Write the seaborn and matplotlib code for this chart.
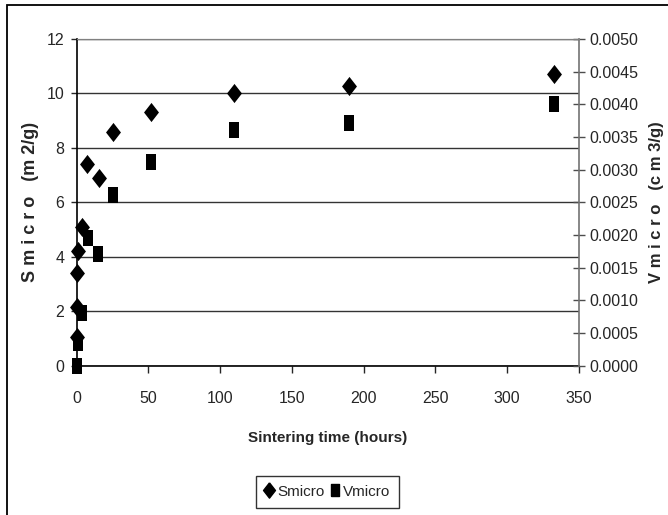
import numpy as np
import matplotlib
matplotlib.use("Agg")
import matplotlib.pyplot as plt
import seaborn as sns
from matplotlib.ticker import MultipleLocator, FormatStrFormatter
from matplotlib.lines import Line2D
from matplotlib.patches import Rectangle

# data
s_time = [0, 0, 0.5, 1, 3.5, 7.5, 15.5, 25.5, 52, 110, 190, 333]
s_micro = [1.05, 2.15, 3.4, 4.2, 5.1, 7.4, 6.9, 8.6, 9.3, 10.0, 10.27, 10.73]

v_time = [0, 1, 3.5, 8, 15, 25, 52, 110, 190, 333]
v_micro = [0.0, 0.00034, 0.00081, 0.00195, 0.00171, 0.00262, 0.00311, 0.00361, 0.00371, 0.0040]

sns.set_style("white")
plt.rcParams['font.family'] = ['Liberation Sans', 'DejaVu Sans']

# tall marker shapes, like the stretched original
diamond = [(0, 1), (0.78, 0), (0, -1), (-0.78, 0), (0, 1)]
square = [(-0.62, -1), (0.62, -1), (0.62, 1), (-0.62, 1), (-0.62, -1)]

fig = plt.figure(figsize=(6.68, 5.15), dpi=100)
ax = fig.add_axes([0.1148, 0.2899, 0.7515, 0.6344])
ax2 = ax.twinx()

sns.scatterplot(x=s_time, y=s_micro, ax=ax, marker=diamond, s=190, color='black',
                edgecolor='black', linewidth=0, zorder=3, clip_on=False)
sns.scatterplot(x=v_time, y=v_micro, ax=ax2, marker=square, s=135, color='black',
                edgecolor='black', linewidth=0, zorder=3, clip_on=False)

ax.set_xlim(0, 350)
ax.set_ylim(0, 12)
ax2.set_ylim(0, 0.005)
ax.xaxis.set_major_locator(MultipleLocator(50))
ax.yaxis.set_major_locator(MultipleLocator(2))
ax2.yaxis.set_major_locator(MultipleLocator(0.0005))
ax2.yaxis.set_major_formatter(FormatStrFormatter('%.4f'))

# horizontal gridlines from the left axis
ax.grid(axis='y', color='0.2', linewidth=1)
ax.set_axisbelow(True)

for sp in ['left', 'bottom']:
    ax.spines[sp].set_color('black')
    ax.spines[sp].set_linewidth(1.2)
ax.spines['top'].set_color('0.5')
ax.spines['right'].set_visible(False)
for sp in ['left', 'bottom']:
    ax2.spines[sp].set_visible(False)
ax2.spines['top'].set_color('0.5')
ax2.spines['right'].set_color('0.45')
ax2.spines['right'].set_linewidth(1.2)

ax.tick_params(axis='x', direction='out', length=5, width=1, labelsize=11.5, pad=13, bottom=True)
ax.tick_params(axis='y', direction='out', length=4, width=1, labelsize=11.5, pad=5, left=True)
ax2.tick_params(axis='y', direction='inout', length=8, width=1, color='0.3', labelsize=11.5, pad=4, right=True)

ax.set_xlabel('Sintering time (hours)', fontsize=11, fontweight='bold', labelpad=18)
ax.set_ylabel('S m i c r o   (m 2/g)', fontsize=13, fontweight='bold', labelpad=5)
ax2.set_ylabel('V m i c r o   (c m 3/g)', fontsize=12, fontweight='bold', labelpad=7)

handles = [Line2D([], [], marker=diamond, color='black', linestyle='none', markersize=11),
           Line2D([], [], marker=square, color='black', linestyle='none', markersize=9)]
leg = fig.legend(handles, ['Smicro', 'Vmicro'], loc='center', bbox_to_anchor=(0.49, 0.045),
                 ncol=2, fontsize=11, frameon=True, fancybox=False, handlelength=0.6,
                 handletextpad=0.2, columnspacing=0.4, borderpad=0.6)
leg.get_frame().set_edgecolor('black')
leg.get_frame().set_linewidth(1)

# outer chart frame, cut off on the right and bottom
fig.patches.append(Rectangle((7 / 668, -0.1), 1.2, 1 - 5 / 515 + 0.1, transform=fig.transFigure,
                             fill=False, edgecolor='black', linewidth=1.3))

fig.savefig('out.png', dpi=100)
